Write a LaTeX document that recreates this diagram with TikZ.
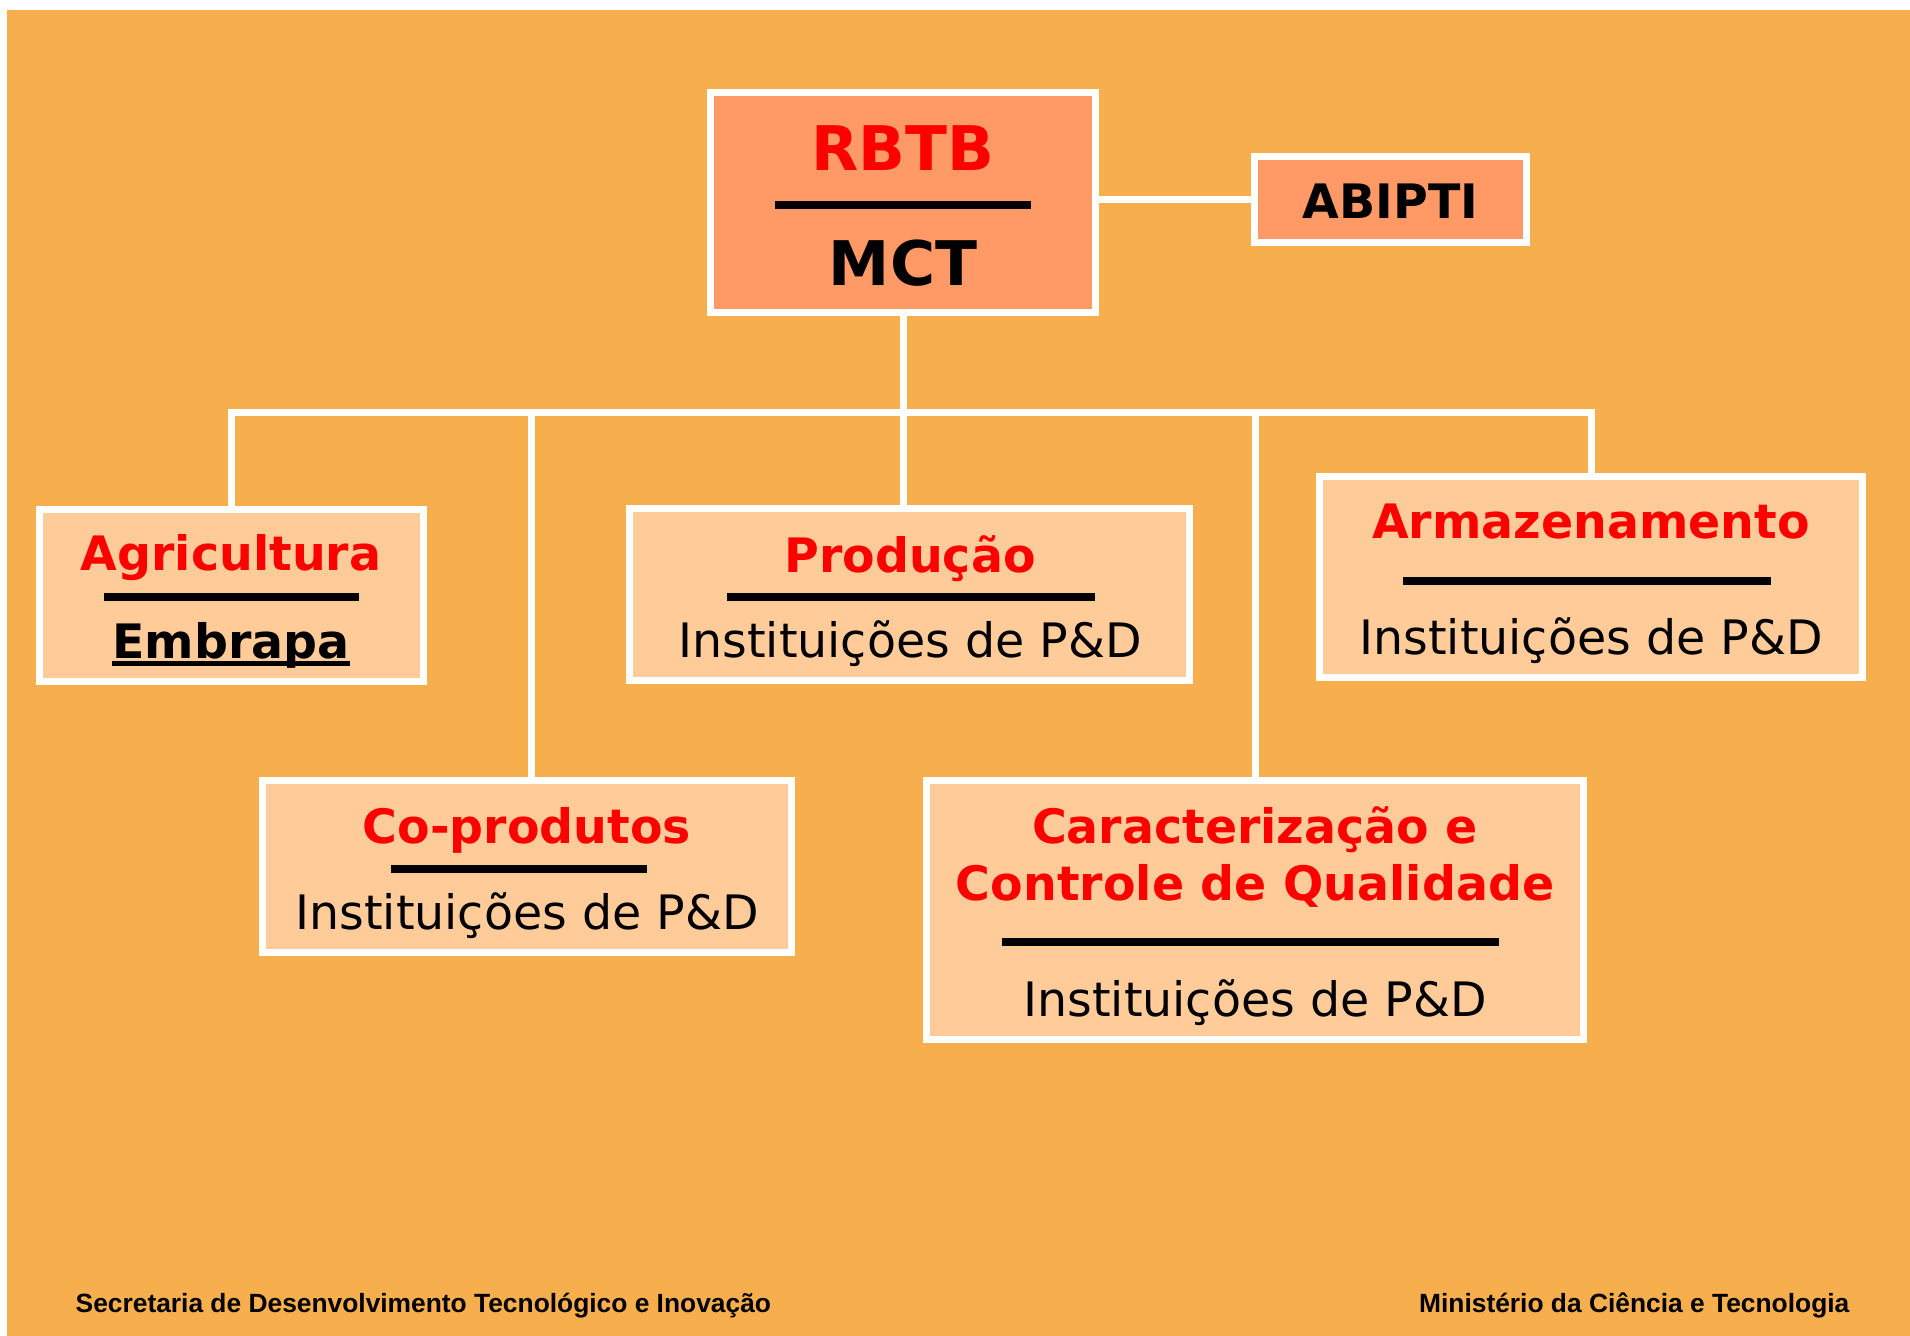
\documentclass[tikz,border=0pt]{standalone}
\usepackage{fontspec}
\setmainfont{DejaVu Sans}
\newfontfamily\footfont{Liberation Sans}
\usetikzlibrary{calc,positioning}
\definecolor{my_bg}{RGB}{247,174,77}
\definecolor{my_salmon}{RGB}{255,153,102}
\definecolor{my_peach}{RGB}{255,204,153}
\definecolor{my_red}{RGB}{255,0,0}
\tikzset{
  box/.style      = {rectangle, draw=white, line width=0.7mm, inner sep=0pt},
  topbox/.style   = {box, fill=my_salmon},
  subbox/.style   = {box, fill=my_peach},
  link/.style     = {white, line width=0.7mm},
  rulebar/.style  = {black, line width=0.8mm},
  ttl/.style      = {text=my_red, font=\fontsize{13.5}{16}\selectfont\bfseries, anchor=base, inner sep=0pt},
  bigttl/.style   = {anchor=base, inner sep=0pt, font=\fontsize{17.5}{20}\selectfont\bfseries},
  subtxt/.style   = {font=\fontsize{13.5}{16}\selectfont, anchor=base, inner sep=0pt},
  foot/.style     = {font=\footfont\fontsize{7.5}{9}\selectfont\bfseries, inner sep=0pt}
}
\begin{document}
\begin{tikzpicture}[x=0.1mm, y=-0.1mm]
    % Page and background
    \useasboundingbox (0,0) rectangle (1910,1336);
    \fill[white] (0,0) rectangle (1910,1336);
    \fill[my_bg] (7,10) rectangle (1910,1336);

    % ----- Boxes -----
    \node[topbox, minimum width=38.5mm, minimum height=22mm] (rbtb) at (903,202.5) {};
    \node[topbox, minimum width=27.2mm, minimum height=8.6mm] (abipti) at (1390.5,199.5) {};
    \node[subbox, minimum width=38.4mm, minimum height=17.2mm] (agri) at (231.5,595.5) {};
    \node[subbox, minimum width=56mm, minimum height=17.2mm] (prod) at (909.5,594.5) {};
    \node[subbox, minimum width=54.3mm, minimum height=20.1mm] (armaz) at (1591,577) {};
    \node[subbox, minimum width=52.9mm, minimum height=17.2mm] (copro) at (527,866.5) {};
    \node[subbox, minimum width=65.7mm, minimum height=25.9mm] (caract) at (1255,910) {};

    % ----- Connections -----
    \coordinate (bus) at (903,413);
    \coordinate (coproTop) at ([xshift=0.4mm]copro.north);
    \draw[link] (rbtb.east |- abipti.west) -- (abipti.west);
    \draw[link] (rbtb.south) -- (rbtb.south |- prod.north);
    \draw[link] (agri.north) |- (bus) -| (armaz.north);
    \draw[link] (coproTop) -- (coproTop |- bus);
    \draw[link] (caract.north) -- (caract.north |- bus);

    % ----- RBTB / MCT -----
    \node[bigttl, text=my_red] (rbtbT) at (903,171) {RBTB};
    \draw[rulebar] (775,205) -- (1031,205);
    \node[bigttl] (mctT) at (903,286) {MCT};
    \node[bigttl, font=\fontsize{13.5}{16}\selectfont\bfseries] (abiptiT) at (1390.5,219) {ABIPTI};

    % ----- Agricultura -----
    \node[ttl] (agriT) at (231,571) {Agricultura};
    \draw[rulebar] (104,597) -- (359,597);
    \node[subtxt, font=\fontsize{13.5}{16}\selectfont\bfseries] (embrapa) at (231,658) {Embrapa};
    \draw[line width=0.5mm] ($(embrapa.base west)+(0,5)$) -- ($(embrapa.base east)+(0,5)$);

    % ----- Producao -----
    \node[ttl] (prodT) at (910,572) {Produção};
    \draw[rulebar] (727,597) -- (1095,597);
    \node[subtxt] (prodS) at (910,657) {Instituições de P\&D};

    % ----- Armazenamento -----
    \node[ttl] (armazT) at (1591,539) {Armazenamento};
    \draw[rulebar] (1403,581) -- (1771,581);
    \node[subtxt] (armazS) at (1591,654) {Instituições de P\&D};

    % ----- Co-produtos -----
    \node[ttl] (coproT) at (527,843) {Co-produtos};
    \draw[rulebar] (391,869) -- (647,869);
    \node[subtxt] (coproS) at (527,929) {Instituições de P\&D};

    % ----- Caracterizacao -----
    \node[ttl] (caractT) at (1255,843) {Caracterização e};
    \node[ttl] (caractU) at (1255,900) {Controle de Qualidade};
    \draw[rulebar] (1002,942) -- (1499,942);
    \node[subtxt] (caractS) at (1255,1016) {Instituições de P\&D};

    % ----- Footer -----
    \node[foot, anchor=base west] (footL) at (75,1312) {Secretaria de Desenvolvimento Tecnológico e Inovação};
    \node[foot, anchor=base east] (footR) at (1850,1312) {Ministério da Ciência e Tecnologia};
\end{tikzpicture}
\end{document}
